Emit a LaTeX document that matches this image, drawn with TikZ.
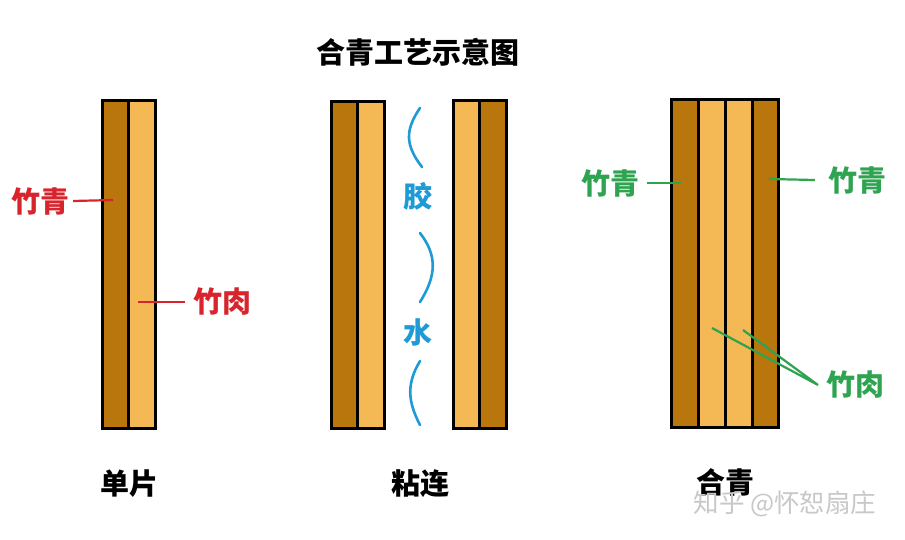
\documentclass[tikz,border=0pt]{standalone}
\usepackage{fontspec}
\newfontfamily\cjk{Noto Sans CJK SC}
\definecolor{bdark}{RGB}{184,118,12}
\definecolor{blight}{RGB}{244,184,84}
\definecolor{lred}{RGB}{216,36,44}
\definecolor{lblue}{RGB}{30,155,215}
\definecolor{lgreen}{RGB}{46,164,80}
\definecolor{wm}{RGB}{200,200,200}
\tikzset{
  darkstrip/.style={fill=bdark, draw=black, line width=3pt},
  lightstrip/.style={fill=blight, draw=black, line width=3pt},
  lbl/.style={inner sep=0pt, font=\cjk\bfseries\fontsize{29}{29}\selectfont},
  redlbl/.style={lbl, text=lred},
  bluelbl/.style={lbl, text=lblue},
  greenlbl/.style={lbl, text=lgreen},
  redline/.style={draw=lred, line width=2.2pt},
  greenline/.style={draw=lgreen, line width=2.2pt},
  glue/.style={draw=lblue, line width=2.6pt, line cap=round},
}
\begin{document}
\begin{tikzpicture}[x=1pt, y=-1pt]
\useasboundingbox[fill=white] (0,0) rectangle (905,540);
% left single strip
\draw[darkstrip] (102,101) rectangle (128,428);
\draw[lightstrip] (128,101) rectangle (155,428);
% middle pair
\draw[darkstrip] (331,102) rectangle (357,428);
\draw[lightstrip] (357,102) rectangle (384,428);
\draw[lightstrip] (453,101) rectangle (479,428);
\draw[darkstrip] (479,101) rectangle (506,428);
% right combined
\draw[darkstrip] (671,100) rectangle (698,427);
\draw[lightstrip] (698,100) rectangle (725,427);
\draw[lightstrip] (725,100) rectangle (752,427);
\draw[darkstrip] (752,100) rectangle (778,427);

% title
\node[lbl] (title) at (418,52) {合青工艺示意图};
% bottom labels
\node[lbl] (single) at (129,484) {单片};
\node[lbl] (stick) at (420,484) {粘连};
\node[lbl] (combo) at (725,482) {合青};
% watermark
\node[inner sep=0pt, text=wm, font=\cjk\fontsize{25.5}{25.5}\selectfont] (wmk) at (785,504) {知乎 @怀恕扇庄};

% left labels
\node[redlbl] (lq) at (40,201) {竹青};
\coordinate (lqe) at (113,200);
\draw[redline] ([xshift=4pt]lq.east) -- (lqe);
\node[redlbl] (lr) at (222,302) {竹肉};
\coordinate (lre) at (138,302);
\draw[redline] (lre) -- ([xshift=-8pt]lr.west);

% glue
\node[bluelbl] (jiao) at (418,196) {胶};
\node[bluelbl] (shui) at (418,332) {水};
\coordinate (g1a) at (420,108);
\coordinate (g1b) at (422,167);
\coordinate (g2a) at (420,233);
\coordinate (g2b) at (420,302);
\coordinate (g3a) at (420,361);
\coordinate (g3b) at (420,425);
\draw[glue] (g1a) .. controls (405,130) and (405,145) .. (g1b);
\draw[glue] (g2a) .. controls (437,255) and (437,275) .. (g2b);
\draw[glue] (g3a) .. controls (407,383) and (407,400) .. (g3b);

% right labels
\node[greenlbl] (gq1) at (610,183) {竹青};
\coordinate (gq1e) at (681,183);
\draw[greenline] ([xshift=8pt]gq1.east) -- (gq1e);
\node[greenlbl] (gq2) at (857,180) {竹青};
\coordinate (gq2e) at (769,179);
\draw[greenline] (gq2e) -- ([xshift=-13pt]gq2.west);
\node[greenlbl] (gr) at (855,385) {竹肉};
\coordinate (gr1) at (712,328);
\coordinate (gr2) at (743,330);
\coordinate (grj) at (818,385);
\draw[greenline] (gr1) -- (grj) -- (gr2);
\end{tikzpicture}
\end{document}
